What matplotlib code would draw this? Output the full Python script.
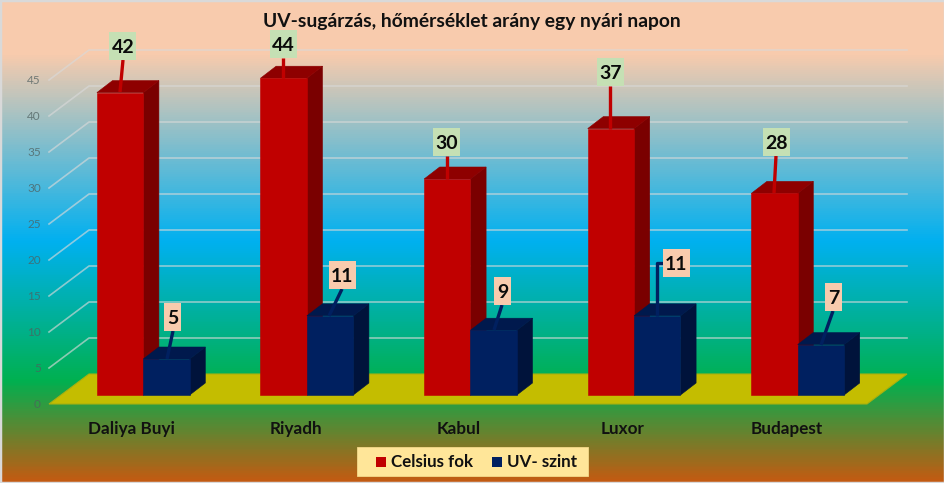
# uv_temp_bars.py

import matplotlib.pyplot as plt
import numpy as np
from matplotlib.colors import LinearSegmentedColormap
from matplotlib.patches import Polygon, Rectangle

cities = ["Daliya Buyi", "Riyadh", "Kabul", "Luxor", "Budapest"]
celsius = [42, 44, 30, 37, 28]
uv_level = [5, 11, 9, 11, 7]
y_ticks = [0, 5, 10, 15, 20, 25, 30, 35, 40, 45]
title = "UV-sugárzás, hőmérséklet arány egy nyári napon"
legend_names = ["Celsius fok", "UV- szint"]

# pixel scale of the picture
PX_X = 163.6
PX_Y = 7.2
BAR_W = 46.4 / PX_X
DEPTH_X = 15.6 / PX_X
DEPTH_Y = 12 / PX_Y
BACK_X = 40 / PX_X
BACK_Y = 30 / PX_Y
GRID_DROP = 9 / PX_Y

RED = ("#C00000", "#8E0000", "#7A0000")
BLUE = ("#002060", "#00194D", "#00133B")


def px(x, y):
    # picture pixels to data coordinates
    return (x - 143.3) / PX_X, (395 - y) / PX_Y


def draw_background(ax, xlim, ylim):
    stops = [(0.0, "#F8CBAD"), (0.11, "#F8CBAD"), (0.5, "#00B0F0"),
             (0.79, "#00B050"), (1.0, "#C55A11")]
    cmap = LinearSegmentedColormap.from_list("bg", stops)
    grad = np.linspace(0, 1, 483).reshape(-1, 1)
    ax.imshow(grad, cmap=cmap, aspect="auto", zorder=0,
              extent=(xlim[0], xlim[1], ylim[0], ylim[1]))


def draw_walls(ax):
    x0, x_back_end = px(49, 0)[0], px(907, 0)[0]
    floor = [(x0, -GRID_DROP), (x0 + BACK_X, -GRID_DROP + BACK_Y),
             (x_back_end, -GRID_DROP + BACK_Y), (x_back_end - BACK_X, -GRID_DROP)]
    ax.add_patch(Polygon(floor, facecolor="#C4BD00", edgecolor="#A8B010", lw=0.8, zorder=2))
    for v in y_ticks[1:]:
        y = v - GRID_DROP
        ax.plot([x0, x0 + BACK_X, x_back_end], [y, y + BACK_Y, y + BACK_Y],
                color="#D9D9D9", alpha=0.65, lw=1.2, zorder=1)
    for v in y_ticks:
        ax.text(px(41, 0)[0], v - GRID_DROP - 0.1, str(v), ha="right", va="center",
                fontsize=8.5, family="Lato", color="#4F5F5F", alpha=0.75, zorder=3)


def draw_bar(ax, left, height, colors, zorder):
    right = left + BAR_W
    ax.add_patch(Polygon([(right, 0), (right + DEPTH_X, DEPTH_Y),
                          (right + DEPTH_X, height + DEPTH_Y), (right, height)],
                         facecolor=colors[2], edgecolor=colors[2], lw=0.4, zorder=zorder))
    ax.add_patch(Polygon([(left, height), (left + DEPTH_X, height + DEPTH_Y),
                          (right + DEPTH_X, height + DEPTH_Y), (right, height)],
                         facecolor=colors[1], edgecolor=colors[1], lw=0.4, zorder=zorder))
    ax.bar(left, height, BAR_W, align="edge", color=colors[0], edgecolor=colors[0],
           lw=0.4, zorder=zorder + 0.1)


def draw_label(ax, value, leader, box_xy, box_color, line_color):
    # leader is a list of picture pixels from bar top to the label box
    xs, ys = zip(*[px(*p) for p in leader])
    ax.plot(xs, ys, color=line_color, lw=2.4, zorder=8, solid_capstyle="butt")
    x, y = px(*box_xy)
    w = (27 if value > 9 else 17) / PX_X
    h = 28 / PX_Y
    ax.add_patch(Rectangle((x - w / 2, y - h / 2), w, h, facecolor=box_color,
                           edgecolor="none", zorder=9))
    ax.text(x, y, str(value), ha="center", va="center_baseline", fontsize=14, fontweight="bold",
            family="Lato", color="#0A0A0A", zorder=10)


fig = plt.figure(figsize=(9.45, 4.83), dpi=100)
ax = fig.add_axes([0, 0, 1, 1])
xlim = px(0, 0)[0], px(945, 0)[0]
ylim = px(0, 483)[1], px(0, 0)[1]
draw_background(ax, xlim, ylim)
ax.set_xlim(xlim)
ax.set_ylim(ylim)
ax.axis("off")
draw_walls(ax)

cat = np.arange(len(cities))
for i in cat:
    draw_bar(ax, i - BAR_W, celsius[i], RED, 4)
for i in cat:
    draw_bar(ax, i, uv_level[i], BLUE, 5)

# leaders in picture pixels
red_leaders = [[(120, 92), (123, 60)], [(283.5, 78), (283.5, 58)], [(447, 179), (447, 156)],
               [(610.5, 129), (610.5, 86)], [(774, 193), (776, 156)]]
red_boxes = [(122.7, 46), (283.5, 44), (447, 142), (610.5, 72), (776.5, 142)]
blue_leaders = [[(167, 359), (173, 331)], [(329, 316), (342, 289)], [(494, 330), (502, 305)],
                [(657, 316), (657, 263), (664, 263)], [(821, 345), (833, 311)]]
blue_boxes = [(172.5, 317), (342.5, 275), (502.5, 291), (676.5, 263), (833.5, 297)]

for i in cat:
    draw_label(ax, celsius[i], red_leaders[i], red_boxes[i], "#C5E0B4", "#C00000")
    draw_label(ax, uv_level[i], blue_leaders[i], blue_boxes[i], "#F8CBAD", "#002060")

for i, name in enumerate(cities):
    ax.text(i - 0.07, px(0, 429)[1], name, ha="center", va="center", fontsize=12.3,
            fontweight="bold", family="Lato", color="#111111", zorder=6)

ax.text(px(472, 0)[0], px(0, 22)[1], title, ha="center", va="center", fontsize=13.9,
        fontweight="bold", family="Lato", color="#111111", zorder=6)

# legend
lx, ly = px(357, 476)
ax.add_patch(Rectangle((lx, ly), 231 / PX_X, 29 / PX_Y, facecolor="#FFE699", edgecolor="#F4D98A",
                       lw=0.6, zorder=6))
for name, color, sq_x, txt_x in zip(legend_names, [RED[0], BLUE[0]], [376, 492], [391, 507]):
    ax.add_patch(Rectangle(px(sq_x, 467), 10 / PX_X, 10 / PX_Y, facecolor=color, edgecolor="none", zorder=7))
    ax.text(px(txt_x, 0)[0], px(0, 462)[1], name, ha="left", va="center", fontsize=12.2,
            fontweight="bold", family="Lato", color="#111111", zorder=7)

# thin picture border
ax.add_patch(Rectangle((xlim[0], ylim[0]), xlim[1] - xlim[0], ylim[1] - ylim[0], fill=False,
                       edgecolor="#D9D9D9", lw=2.5, zorder=11))

fig.savefig("out.png", dpi=100)
